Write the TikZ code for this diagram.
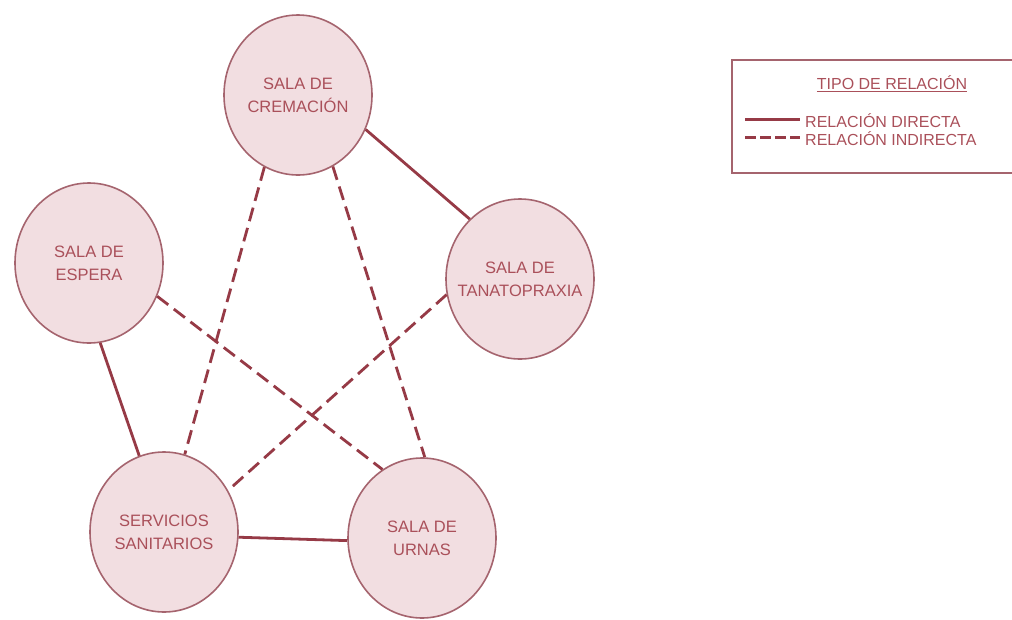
\documentclass[tikz,border=0pt]{standalone}
\usepackage{fontspec}
\setmainfont{Liberation Sans}
\usetikzlibrary{shapes.geometric}
\definecolor{roseline}{RGB}{150,58,70}
\definecolor{rosedraw}{RGB}{165,100,110}
\definecolor{rosefill}{RGB}{242,222,225}
\definecolor{rosetext}{RGB}{170,80,90}
\tikzset{
	room/.style     = {draw=rosedraw, fill=rosefill, ellipse, line width=1.6pt, minimum width=148pt, minimum height=160pt, inner xsep=-15pt, inner ysep=0pt, align=center, text=rosetext, font=\fontsize{16.5}{23}\selectfont},
	direct/.style   = {draw=roseline, line width=2.8pt},
	indirect/.style = {draw=roseline, line width=2.8pt, dash pattern=on 14pt off 7pt},
	legtext/.style  = {text=rosetext, font=\fontsize{16}{18}\selectfont, inner sep=0pt},
}

\begin{document}
\begin{tikzpicture}[x=1pt, y=-1pt]
	\useasboundingbox (0,0) rectangle (1012,619);

	% Draw the rooms
	\node[room] (cremacion) at (298,95)  {SALA DE\\CREMACIÓN};
	\node[room] (espera)    at (89,263)  {SALA DE\\ESPERA};
	\node[room] (tanato)    at (520,279) {SALA DE\\TANATOPRAXIA};
	\node[room] (sanit)     at (164,532) {SERVICIOS\\SANITARIOS};
	\node[room] (urnas)     at (422,538) {SALA DE\\URNAS};

	% Draw relations
	\draw[direct]   (cremacion.-27) -- (tanato.130);
	\draw[indirect] (cremacion.-115) -- (sanit.75);
	\draw[indirect] (cremacion.-64) -- (urnas.88);
	\draw[direct]   (espera.-82) -- (sanit.108);
	\draw[indirect] (espera.-26) -- (urnas.120);
	\draw[indirect] (tanato.192) -- (sanit.33);
	\draw[direct]   (sanit.-4) -- (urnas.182);

	% Draw the legend
	\draw[rosedraw, line width=1.2pt] (732,60) rectangle (1016,173);
	\node[legtext] (legtitle) at (892,84) {\underline{TIPO DE RELACIÓN}};
	\coordinate (dirstart) at (745,119);
	\coordinate (dirend)   at (800,119);
	\coordinate (indstart) at (745,137);
	\coordinate (indend)   at (800,137);
	\draw[direct, line width=3pt] (dirstart) -- (dirend);
	\draw[direct, line width=3pt, dash pattern=on 11pt off 4pt] (indstart) -- (indend);
	\node[legtext, anchor=west] (legdirect)   at (805,121) {RELACIÓN DIRECTA};
	\node[legtext, anchor=west] (legindirect) at (805,139) {RELACIÓN INDIRECTA};
\end{tikzpicture}
\end{document}
